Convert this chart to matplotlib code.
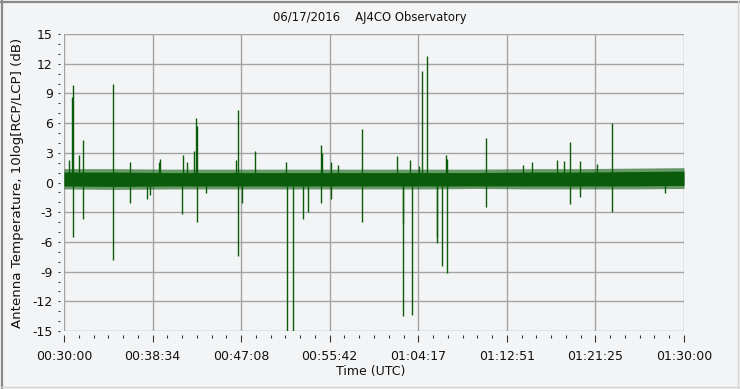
import matplotlib
matplotlib.use("Agg")
import matplotlib.pyplot as plt
from matplotlib.lines import Line2D
from matplotlib.ticker import MultipleLocator, FixedLocator

plt.rcParams['font.family'] = ['DejaVu Sans']
plt.rcParams['axes.unicode_minus'] = False

# ---- data (minutes after 00:30:00 UTC, dB) ----
title_text = "06/17/2016    AJ4CO Observatory"
x_label = "Time (UTC)"
y_label = "Antenna Temperature, 10log[RCP/LCP] (dB)"
x_tick_labels = ["00:30:00", "00:38:34", "00:47:08", "00:55:42",
                 "01:04:17", "01:12:51", "01:21:25", "01:30:00"]

# noise band envelope
band_t = [0, 5, 10, 15, 20, 25, 30, 35, 40, 45, 50, 55, 60]
band_core_hi = [1.05, 1.05, 1.0, 1.0, 1.0, 1.0, 1.0, 1.0, 1.0, 1.05, 1.05, 1.1, 1.15]
band_core_lo = [-0.35, -0.4, -0.35, -0.35, -0.35, -0.35, -0.35, -0.35, -0.35, -0.35, -0.35, -0.35, -0.3]
band_fringe_hi = [1.4, 1.4, 1.35, 1.35, 1.35, 1.35, 1.35, 1.35, 1.35, 1.4, 1.4, 1.45, 1.5]
band_fringe_lo = [-0.65, -0.7, -0.65, -0.65, -0.65, -0.65, -0.65, -0.65, -0.6, -0.65, -0.65, -0.65, -0.6]

# spikes: time, lower end, upper end
spike_t = [0.51, 0.80, 0.90, 1.48, 1.87, 4.77, 6.42, 8.00, 8.32, 9.16, 9.29,
           11.39, 11.55, 11.94, 12.61, 12.80, 12.87, 12.90, 13.74,
           16.61, 16.87, 17.19, 18.51, 21.51, 21.61, 22.19, 23.16, 23.64,
           24.90, 24.97, 25.87, 26.55, 28.87,
           32.26, 32.78, 32.84, 33.51, 33.71, 34.35, 34.68, 35.16, 36.07, 36.13,
           36.61, 36.97, 37.03, 37.10, 40.87, 44.39,
           45.26, 47.68, 48.42, 49.00, 49.96, 51.55, 53.00, 58.19]
spike_lo = [0.4, 0.4, -5.47, 0.4, -3.72, -7.83, -2.1, -1.7, -1.3, 0.4, 0.4,
            -3.2, 0.4, 0.4, 0.4, 0.4, 0.4, -3.96, -1.1,
            0.4, -7.39, -2.1, 0.4, 0.4, -15.0, -15.0, -3.72, -2.95,
            -2.04, 0.4, -1.7, 0.4, -3.96,
            0.4, -13.48, -4.06, 0.4, -13.38, 0.4, 0.4, 0.4, -6.14, -5.5,
            -8.4, 0.4, 0.4, -9.18, -2.44, 0.4,
            0.4, 0.4, 0.4, -2.17, -1.43, 0.4, -2.95, -1.03]
spike_hi = [2.27, 8.67, 9.85, 2.78, 4.29, 9.95, 2.1, 0.4, 0.4, 2.1, 2.4,
            0.4, 2.78, 2.1, 3.2, 6.55, 5.74, 0.4, 0.4,
            2.27, 7.32, 0.4, 3.2, 2.1, 0.4, 0.4, 0.4, 0.4,
            3.79, 2.95, 2.1, 1.8, 5.37,
            2.7, 0.4, 0.4, 2.27, 0.4, 1.7, 11.3, 12.78, 0.4, 0.4,
            0.4, 2.78, 2.4, 0.4, 4.53, 1.8,
            2.1, 2.27, 2.2, 4.09, 2.2, 1.9, 5.98, 0.4]

# ---- figure ----
W, H = 740, 389
fig = plt.figure(figsize=(W / 100, H / 100), dpi=100)
bg = '#f3f4f6'
fig.patch.set_facecolor(bg)

ax = fig.add_axes([64 / W, 58 / H, 620 / W, 297 / H])
ax.set_facecolor(bg)
green = '#0a5c0a'

ax.fill_between(band_t, band_fringe_lo, band_fringe_hi, color=green, alpha=0.6, lw=0)
ax.fill_between(band_t, band_core_lo, band_core_hi, color=green, lw=0)
ax.vlines(spike_t, spike_lo, spike_hi, color=green, lw=1.0)

ax.set_xlim(0, 60)
ax.set_ylim(-15, 15)

major_x = [i * 60 / 7 for i in range(8)]
ax.xaxis.set_major_locator(FixedLocator(major_x))
ax.xaxis.set_minor_locator(FixedLocator([i * 60 / 42 for i in range(43)]))
ax.set_xticklabels(x_tick_labels)
ax.yaxis.set_major_locator(MultipleLocator(3))
ax.yaxis.set_minor_locator(MultipleLocator(1))

ax.grid(True, which='major', color='#a3a3a3', lw=1.0)
ax.set_axisbelow(True)
for s in ax.spines.values():
    s.set_visible(False)
ax.spines['bottom'].set_position(('outward', 3))
ax.spines['left'].set_position(('outward', 3))

ax.tick_params(axis='x', which='major', direction='out', length=5, width=0.8,
               color='#333333', pad=5.5, labelsize=9, labelcolor='#111111')
ax.tick_params(axis='x', which='minor', direction='out', length=2.2, width=0.8,
               color='#333333')
ax.tick_params(axis='y', which='both', direction='out', length=1.6, width=0.8,
               color='#333333', pad=3.5, labelsize=9, labelcolor='#111111')

fig.text(370 / W, 1 - 18 / H, title_text, ha='center', va='center', fontsize=8.4, color='#111111')
fig.text(371 / W, 1 - 372 / H, x_label, ha='center', va='center', fontsize=9, color='#111111')
fig.text(18 / W, 1 - 183 / H, y_label, ha='center', va='center', rotation=90,
         fontsize=9.6, color='#111111')

# outer border
def fl(x0, y0, x1, y1, c, lw):
    fig.add_artist(Line2D([x0 / W, x1 / W], [1 - y0 / H, 1 - y1 / H], color=c, lw=lw,
                          transform=fig.transFigure))
fl(1, 1.5, 739, 1.5, '#8a8a8a', 1.6)
fl(1.5, 1, 1.5, 388, '#8a8a8a', 1.6)
fl(737.5, 1, 737.5, 388, '#d4d4d4', 1.0)
fl(1, 387, 739, 387, '#d4d4d4', 1.0)

fig.savefig('out.png', dpi=100, facecolor=bg)
